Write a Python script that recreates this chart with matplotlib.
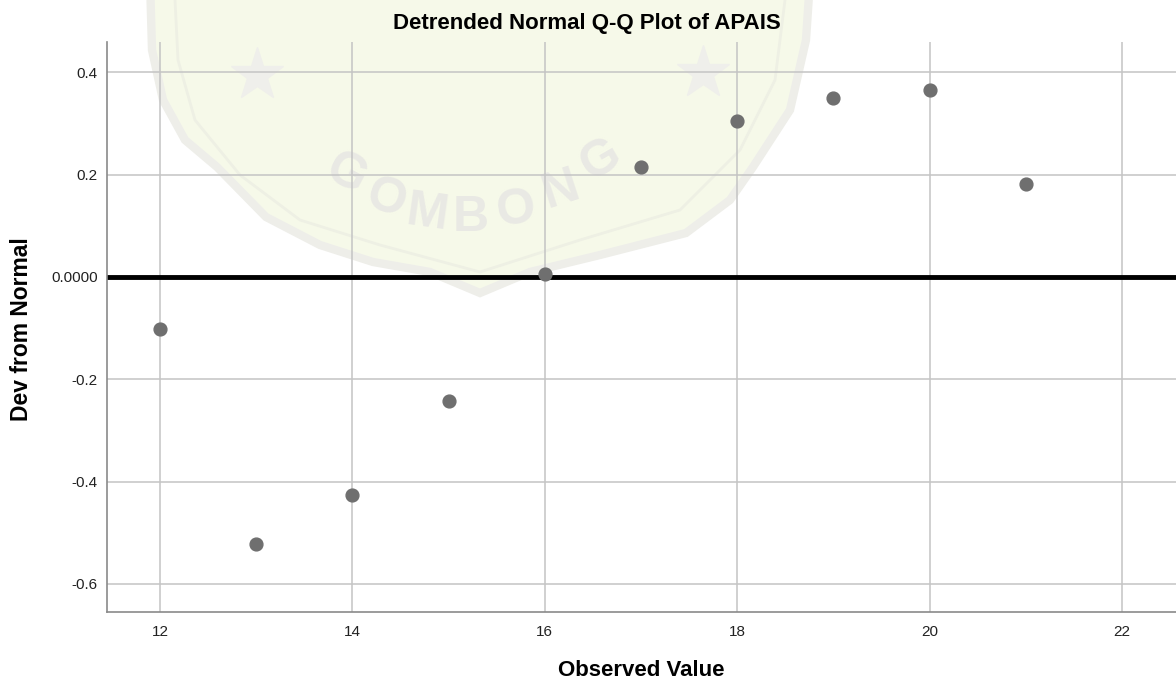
import numpy as np
import matplotlib.pyplot as plt
from matplotlib.patches import Polygon

plt.rcParams['font.family'] = ['Liberation Sans', 'DejaVu Sans']

observed = [12, 13, 14, 15, 16, 17, 18, 19, 20, 21]
dev_from_normal = [-0.101, -0.523, -0.427, -0.242, 0.006, 0.215, 0.304, 0.349, 0.365, 0.181]

x_ticks = [12, 14, 16, 18, 20, 22]
y_ticks = [-0.6, -0.4, -0.2, 0.0, 0.2, 0.4]
y_tick_labels = ['-0.6', '-0.4', '-0.2', '0.0000', '0.2', '0.4']

W, H = 1176, 697
fig = plt.figure(figsize=(W / 100, H / 100), dpi=100)


def px(x, y):
    return (x / W, 1 - y / H)


# faint logo stamp behind the plot
shield = [(150, -20), (152, 50), (163, 100), (185, 140), (217, 167), (266, 217),
          (320, 245), (373, 262), (430, 272), (480, 293), (530, 272), (600, 255),
          (686, 233), (730, 200), (753, 167), (790, 110), (806, 40), (810, -20)]
fig.add_artist(Polygon([px(*p) for p in shield], closed=True, transform=fig.transFigure,
                       facecolor='#f6f9e9', edgecolor='#eeeee9', linewidth=6, zorder=-2))
inner = [(175, 0), (178, 60), (195, 120), (240, 175), (300, 220), (380, 245),
         (480, 272), (580, 240), (680, 210), (740, 150), (775, 80), (785, 0)]
fig.add_artist(plt.Line2D(*zip(*[px(*p) for p in inner]), transform=fig.transFigure,
                          color='#eef0e4', linewidth=2, zorder=-1))
for sx, sy in [(257, 75), (703, 73)]:
    fig.add_artist(plt.Line2D([sx / W], [1 - sy / H], transform=fig.transFigure, marker='*',
                              markersize=40, color='#efefeb', linestyle='none', zorder=-1))
letters = 'GOMBONG'
lx = [346, 387, 427, 471, 516, 561, 601]
ly = [175, 200, 214, 218, 210, 190, 160]
rot = [-28, -18, -8, 0, 8, 18, 30]
for ch, x, y, r in zip(letters, lx, ly, rot):
    fig.text(*px(x, y), ch, fontsize=36, fontweight='bold', color='#e9e9e4',
             rotation=r, ha='center', va='center', zorder=-1)

ax = fig.add_axes([107 / W, 85 / H, 1 - 107 / W, (612 - 42) / H])
ax.set_facecolor('none')

ax.scatter(observed, dev_from_normal, s=85, color='#6f6f6f', edgecolors='#6f6f6f', zorder=3)
ax.axhline(0, color='black', linewidth=3.5, zorder=2)

ax.set_xlim(11.45, 22.56)
ax.set_ylim(-0.655, 0.459)
ax.set_xticks(x_ticks)
ax.set_yticks(y_ticks)
ax.set_yticklabels(y_tick_labels)
ax.tick_params(length=0, labelsize=11, colors='#222222')
ax.tick_params(axis='x', pad=9)
ax.tick_params(axis='y', pad=6.5)
ax.grid(True, color='#c4c4c4', linewidth=1.1)
ax.set_axisbelow(True)

for side in ['top', 'right']:
    ax.spines[side].set_visible(False)
for side in ['left', 'bottom']:
    ax.spines[side].set_color('#8a8a8a')
    ax.spines[side].set_linewidth(1.2)

fig.text(587 / W, 1 - 24 / H, 'Detrended Normal Q-Q Plot of APAIS', ha='center', va='center',
         fontsize=16, fontweight='bold')
fig.text(641 / W, 1 - 671 / H, 'Observed Value', ha='center', va='center',
         fontsize=16, fontweight='bold')
fig.text(22 / W, 1 - 329 / H, 'Dev from Normal', ha='center', va='center', rotation=90,
         fontsize=16.5, fontweight='bold')

fig.savefig('out.png', dpi=100)
